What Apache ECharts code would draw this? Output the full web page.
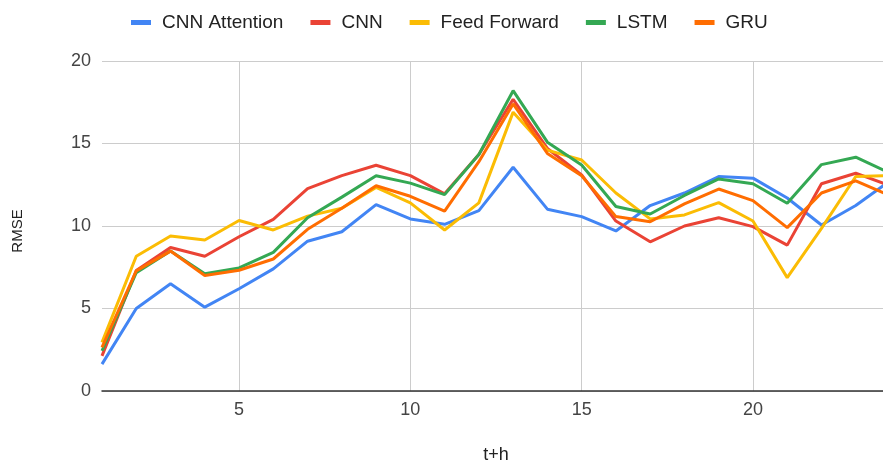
<!DOCTYPE html>
<html>
<head>
<meta charset="utf-8">
<script src="https://cdn.jsdelivr.net/npm/echarts@6/dist/echarts.min.js"></script>
<style>html,body{margin:0;padding:0;background:#fff;}#c{width:883px;height:472px;}</style>
</head>
<body>
<div id="c"></div>
<script>
const steps = [1,2,3,4,5,6,7,8,9,10,11,12,13,14,15,16,17,18,19,20,21,22,23,24];
const xTicks = [5,10,15,20];
const seriesNames = ['CNN Attention','CNN','Feed Forward','LSTM','GRU'];
const cnnAttention = [1.63,5.0,6.5,5.08,6.2,7.4,9.08,9.65,11.3,10.43,10.1,10.93,13.56,11.02,10.57,9.7,11.24,12.0,13.0,12.9,11.7,10.06,11.24,12.74];
const cnn = [2.13,7.3,8.7,8.17,9.35,10.4,12.26,13.05,13.68,13.05,11.95,14.33,17.68,14.7,13.1,10.3,9.04,10.0,10.5,9.96,8.84,12.56,13.2,12.44];
const feedForward = [2.95,8.17,9.39,9.15,10.33,9.76,10.6,11.08,12.34,11.4,9.76,11.4,16.9,14.6,14.0,12.0,10.43,10.67,11.42,10.3,6.87,9.86,13.0,13.05];
const lstm = [2.44,7.17,8.48,7.11,7.46,8.4,10.5,11.75,13.05,12.6,11.9,14.33,18.2,15.08,13.7,11.18,10.73,11.85,12.85,12.56,11.38,13.72,14.17,13.2];
const gru = [2.64,7.28,8.48,7.0,7.32,8.0,9.8,11.08,12.44,11.8,10.9,13.9,17.4,14.4,13.05,10.57,10.26,11.34,12.24,11.54,9.9,12.0,12.74,11.83];
const colors = ['#4285F4','#EA4335','#FBBC04','#34A853','#FF6D01'];
const allData = [cnnAttention, cnn, feedForward, lstm, gru];

const font = 'Arial, "Liberation Sans", sans-serif';
const chart = echarts.init(document.getElementById('c'), null, {renderer:'canvas'});
chart.setOption({
  animation: false,
  color: colors,
  textStyle: {fontFamily: font},
  legend: {
    top: 8, left: 126,
    icon: 'rect', itemWidth: 20, itemHeight: 5, itemGap: 27,
    textStyle: {fontFamily: font, fontSize: 19, color: '#222', padding: [0, 0, 0, 6]},
    data: seriesNames
  },
  grid: {left: 102, top: 61, width: 788, height: 330, containLabel: false, outerBoundsMode: 'none'},
  xAxis: {
    type: 'value', min: 1, max: 24,
    name: 't+h', nameLocation: 'middle', nameGap: 55,
    nameTextStyle: {fontFamily: font, fontSize: 18, color: '#222'},
    axisLine: {show: true, lineStyle: {color: '#333', width: 1.5}},
    axisTick: {show: false, customValues: xTicks},
    axisLabel: {customValues: xTicks, fontFamily: font, fontSize: 18, color: '#444', margin: 10},
    splitLine: {show: true, lineStyle: {color: '#cccccc', width: 1}}
  },
  yAxis: {
    type: 'value', min: 0, max: 20, interval: 5,
    name: 'RMSE', nameLocation: 'middle', nameGap: 77, nameRotate: 90,
    nameTextStyle: {fontFamily: font, fontSize: 15, color: '#222', padding: [0, 10, 0, 0]},
    axisLine: {show: false}, axisTick: {show: false},
    axisLabel: {fontFamily: font, fontSize: 18, color: '#444', margin: 11},
    splitLine: {show: true, lineStyle: {color: '#cccccc', width: 1}}
  },
  series: seriesNames.map((n, i) => ({
    name: n, type: 'line', showSymbol: false, symbol: 'none',
    lineStyle: {width: 3, color: colors[i]},
    data: steps.map((s, j) => [s, allData[i][j]])
  }))
});
</script>
</body>
</html>
